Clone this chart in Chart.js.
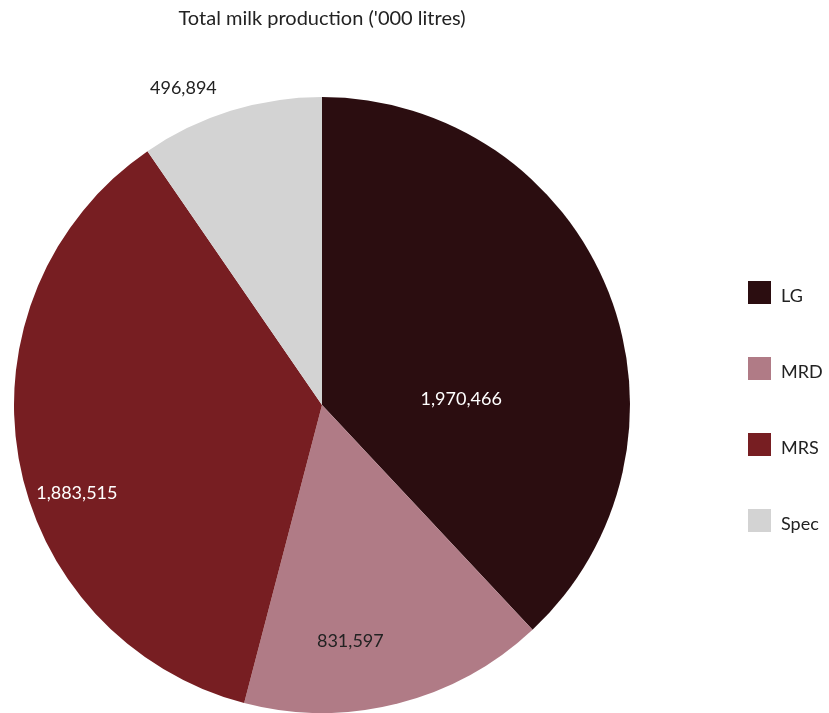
<!DOCTYPE html>
<html>
<head>
<meta charset="utf-8">
<script src="https://cdn.jsdelivr.net/npm/chart.js@4/dist/chart.umd.min.js"></script>
<style>
  html, body { margin: 0; padding: 0; background: #fff; }
  canvas { display: block; }
</style>
</head>
<body>
<canvas id="milkChart" width="829" height="713"></canvas>
<script>
// Total milk production by category ('000 litres)
const categories = ['LG', 'MRD', 'MRS', 'Spec'];
const production = [1970466, 831597, 1883515, 496894];
const sliceColors = ['#2b0d10', '#b07b86', '#771e22', '#d3d3d3'];
const labelColors = ['#ffffff', '#222222', '#ffffff', '#222222'];
// where each value label sits, as a fraction of the radius from the centre
const labelSpots = [[0.452, -0.019], [0.092, 0.767], [-0.796, 0.286], [-0.450, -1.028]];

const FONT = 'Lato, "Open Sans", sans-serif';

const fmt = v => v.toLocaleString('en-US');

// title above the pie, centred on it
const titlePlugin = {
    id: 'pieTitle',
    afterDraw(chart) {
        const ctx = chart.ctx;
        const arc = chart.getDatasetMeta(0).data[0];
        ctx.save();
        ctx.font = '20px ' + FONT;
        ctx.fillStyle = '#222';
        ctx.textAlign = 'center';
        ctx.textBaseline = 'middle';
        ctx.fillText("Total milk production ('000 litres)", arc.x, 19);
        ctx.restore();
    }
};

// value labels on/near each slice
const valueLabels = {
    id: 'valueLabels',
    afterDatasetsDraw(chart) {
        const ctx = chart.ctx;
        const meta = chart.getDatasetMeta(0);
        ctx.save();
        ctx.font = '18px ' + FONT;
        ctx.textAlign = 'center';
        ctx.textBaseline = 'middle';
        meta.data.forEach((arc, i) => {
            const r = arc.outerRadius;
            ctx.fillStyle = labelColors[i];
            ctx.fillText(fmt(production[i]), arc.x + labelSpots[i][0] * r, arc.y + labelSpots[i][1] * r);
        });
        ctx.restore();
    }
};

// legend column on the right
const sideLegend = {
    id: 'sideLegend',
    afterDraw(chart) {
        const ctx = chart.ctx;
        const x0 = 748, y0 = 281, box = 23, step = 76;
        ctx.save();
        ctx.font = '18px ' + FONT;
        ctx.textBaseline = 'middle';
        ctx.textAlign = 'left';
        categories.forEach((name, i) => {
            const y = y0 + i * step;
            ctx.fillStyle = sliceColors[i];
            ctx.fillRect(x0, y, box, box);
            ctx.fillStyle = '#222';
            ctx.fillText(name, x0 + 33, y + box / 2 + 4);
        });
        ctx.restore();
    }
};

const ctx = document.getElementById('milkChart').getContext('2d');
new Chart(ctx, {
    type: 'pie',
    data: {
        labels: categories,
        datasets: [{
            data: production,
            backgroundColor: sliceColors,
            borderWidth: 0
        }]
    },
    options: {
        responsive: false,
        devicePixelRatio: 1,
        animation: false,
        events: [],
        layout: {
            padding: { top: 97, left: 13, right: 198, bottom: -2 }
        },
        plugins: {
            legend: { display: false },
            title: { display: false },
            tooltip: { enabled: false }
        }
    },
    plugins: [valueLabels, titlePlugin, sideLegend]
});
</script>
</body>
</html>
